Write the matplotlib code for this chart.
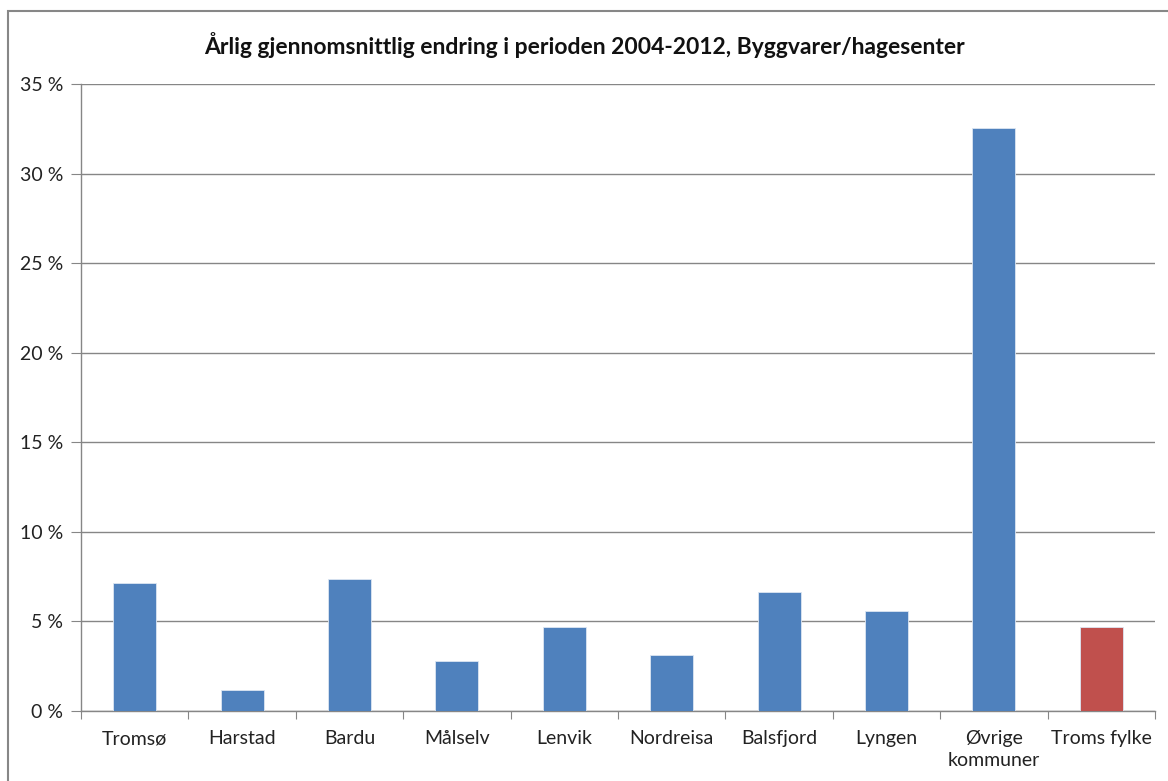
import matplotlib
matplotlib.use('Agg')
import matplotlib.pyplot as plt
from matplotlib.patches import Rectangle
from matplotlib.ticker import FixedLocator, FuncFormatter

plt.rcParams['font.family'] = ['Lato', 'DejaVu Sans']

# Annual average change 2004-2012, building materials / garden centres
kommuner = ['Tromsø', 'Harstad', 'Bardu', 'Målselv', 'Lenvik', 'Nordreisa',
            'Balsfjord', 'Lyngen', 'Øvrige\nkommuner', 'Troms fylke']
endring = [0.0715, 0.0117, 0.0735, 0.028, 0.047, 0.031,
           0.0665, 0.0558, 0.3255, 0.0469]
farger = ['#4F81BD'] * 9 + ['#C0504D']

fig = plt.figure(figsize=(11.68, 7.81), dpi=100)
ax = fig.add_axes([81 / 1168, 1 - 711 / 781, (1155 - 81) / 1168, (711 - 84) / 781])

# outer chart frame
fig.patches.append(Rectangle((8 / 1168, -0.05), 1.2, 1 - 11 / 781 + 0.05,
                             transform=fig.transFigure, fill=False,
                             edgecolor='#878787', linewidth=1.5))

x = range(len(kommuner))
ax.bar(x, endring, width=0.4, color=farger, edgecolor='#DCE6F2', linewidth=0.6, zorder=3)

ax.set_xlim(-0.5, len(kommuner) - 0.5)
ax.set_ylim(0, 0.35)
ax.set_yticks([i * 0.05 for i in range(8)])
ax.yaxis.set_major_formatter(FuncFormatter(lambda v, p: f'{v * 100:.0f} %'))
ax.grid(axis='y', color='#868686', linewidth=1, zorder=0)

# category boundaries as tick marks, names centred between them
ax.xaxis.set_major_locator(FixedLocator([i - 0.5 for i in range(len(kommuner) + 1)]))
ax.xaxis.set_minor_locator(FixedLocator(list(x)))
ax.set_xticklabels([], minor=False)
ax.set_xticklabels(kommuner, minor=True, fontsize=14, color='#222222', linespacing=1.3)
ax.tick_params(axis='x', which='major', length=6, color='#868686', direction='out')
ax.tick_params(axis='x', which='minor', length=0, pad=14)
ax.tick_params(axis='y', length=7, color='#868686', labelsize=14, labelcolor='#222222', pad=6)

for side in ['top', 'right']:
    ax.spines[side].set_visible(False)
for side in ['left', 'bottom']:
    ax.spines[side].set_color('#868686')
    ax.spines[side].set_linewidth(1)

fig.text(0.5, 1 - 45 / 781, 'Årlig gjennomsnittlig endring i perioden 2004-2012, Byggvarer/hagesenter',
         ha='center', va='center', fontsize=16.5, fontweight='bold', color='#111111')

fig.savefig('out.png', dpi=100)
